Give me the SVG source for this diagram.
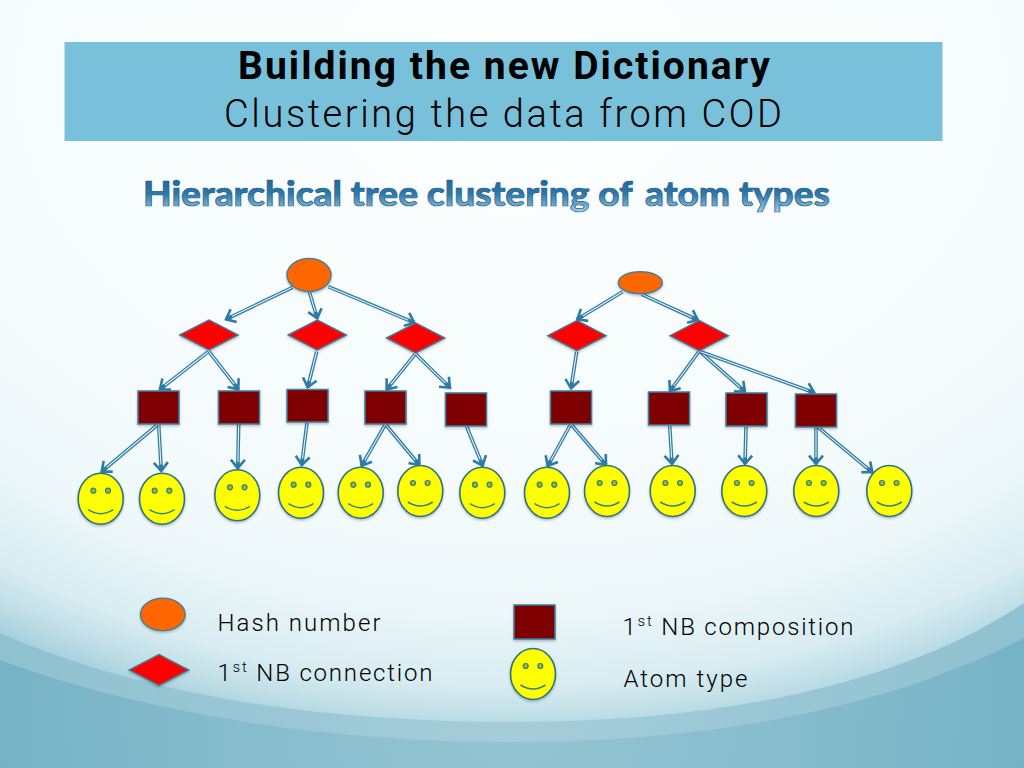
<svg xmlns="http://www.w3.org/2000/svg" width="1024" height="768" viewBox="0 0 1024 768">
<defs>
<radialGradient id="bgA" gradientUnits="userSpaceOnUse" cx="0" cy="0" r="1" gradientTransform="translate(512 80) scale(950 680)">
<stop offset="0" stop-color="#fdffff"/><stop offset="0.6" stop-color="#f5fbfd"/><stop offset="0.77" stop-color="#eef8fa"/><stop offset="0.89" stop-color="#d8ecf1"/><stop offset="0.945" stop-color="#bbdce5"/><stop offset="1" stop-color="#96c6d4"/>
</radialGradient>
<radialGradient id="bgB" gradientUnits="userSpaceOnUse" cx="512" cy="700" r="620"><stop offset="0" stop-color="#96c5d3"/><stop offset="0.5" stop-color="#84bbcc"/><stop offset="1" stop-color="#6faec3"/></radialGradient>
<linearGradient id="bgC" gradientUnits="userSpaceOnUse" x1="0" y1="0" x2="1024" y2="0"><stop offset="0" stop-color="#8fc1d0"/><stop offset="0.5" stop-color="#a5cdd9"/><stop offset="1" stop-color="#8fc1d0"/></linearGradient>
<linearGradient id="head" x1="0" y1="0" x2="0" y2="1"><stop offset="0" stop-color="#1d5f90"/><stop offset="0.55" stop-color="#2f78a8"/><stop offset="1" stop-color="#a8d0e6"/></linearGradient>
<filter id="sh" x="-20%" y="-20%" width="140%" height="150%"><feDropShadow dx="0" dy="1.500" stdDeviation="1.200" flood-color="#000" flood-opacity="0.25"/></filter>
<marker id="arr" markerUnits="userSpaceOnUse" markerWidth="20" markerHeight="20" refX="14" refY="10" orient="auto">
<path d="M7.500 10H14" fill="none" stroke="#2f7ba6" stroke-width="3.600"/>
<path d="M5.500 3L14 10L5.500 17" fill="none" stroke="#2f7ba6" stroke-width="2.600"/>
</marker>
<g id="smile">
<ellipse class="face" rx="22.500" ry="25.500"/>
<circle class="eye" cx="-7.300" cy="-8" r="2.500"/><circle class="eye" cx="7.300" cy="-8" r="2.500"/>
<path class="mouth" d="M-12.500 11Q0 19 12.500 11"/>
</g>
</defs>
<style>
.t{font-family:"Roboto","Liberation Sans",sans-serif;fill:#000;font-variant-ligatures:none}
.l{font-size:24px;font-weight:300}
.sup{font-size:15px}
.face{fill:#ffff00;stroke:#2d7383;stroke-width:1.600;filter:url(#sh)}
.eye{fill:#a3b52c;stroke:#2f8088;stroke-width:1.200}
.mouth{fill:none;stroke:#2f8088;stroke-width:1.500}
.o{fill:#ff6600;stroke:#4a7f94;stroke-width:1.500;filter:url(#sh)}
.d{fill:#ff0000;stroke:#4a6f8c;stroke-width:1.500;filter:url(#sh)}
.s{fill:#7f0000;stroke:#3a7fa0;stroke-width:1.500;filter:url(#sh)}
.c1{fill:none;stroke:#2f7ba6;stroke-width:3.600}
.c2{fill:none;stroke:#e4f3f8;stroke-width:1.100;marker-end:url(#arr)}
</style>
<rect width="1024" height="768" fill="url(#bgB)"/>
<path d="M0 600H1024V638C880 712 700 742 512 742C330 742 150 715 0 660Z" fill="url(#bgC)"/>
<path d="M0 0H1024V603C900 685 720 722 512 722C320 722 140 695 0 633Z" fill="url(#bgA)"/>
<rect x="64.500" y="42" width="878" height="99" fill="#79c1da"/>
<text class="t" x="238" y="79" font-size="39" font-weight="700" textLength="532">Building the new Dictionary</text>
<text class="t" x="224" y="127" font-size="38" font-weight="300" textLength="558">Clustering the data from COD</text>
<text x="143" y="206" font-family="Lato,'Liberation Sans',sans-serif" font-size="35" font-weight="900" fill="url(#head)" stroke="#1d5f90" stroke-width="0.700" textLength="687" lengthAdjust="spacingAndGlyphs" style="font-variant-ligatures:none">Hierarchical tree clustering of<tspan dx="4"> atom types</tspan></text>
<g id="connectors">
<path class="c1" d="M292.700 287.300L226 319.300"/><path class="c2" d="M292.700 287.300L226 319.300"/>
<path class="c1" d="M309.300 291.700L317.300 318.300"/><path class="c2" d="M309.300 291.700L317.300 318.300"/>
<path class="c1" d="M328.300 286.700L414.300 322.700"/><path class="c2" d="M328.300 286.700L414.300 322.700"/>
<path class="c1" d="M208.300 351.700L160 389.300"/><path class="c2" d="M208.300 351.700L160 389.300"/>
<path class="c1" d="M209 351.700L238.300 389.300"/><path class="c2" d="M209 351.700L238.300 389.300"/>
<path class="c1" d="M316.700 351.700L307.700 387.300"/><path class="c2" d="M316.700 351.700L307.700 387.300"/>
<path class="c1" d="M415 354.300L386.700 389.300"/><path class="c2" d="M415 354.300L386.700 389.300"/>
<path class="c1" d="M416 354.300L450 387.700"/><path class="c2" d="M416 354.300L450 387.700"/>
<path class="c1" d="M157.300 425L101.700 471.700"/><path class="c2" d="M157.300 425L101.700 471.700"/>
<path class="c1" d="M158.700 425L161.300 471"/><path class="c2" d="M158.700 425L161.300 471"/>
<path class="c1" d="M238.700 424L237.700 468.300"/><path class="c2" d="M238.700 424L237.700 468.300"/>
<path class="c1" d="M307 422.700L301.700 465"/><path class="c2" d="M307 422.700L301.700 465"/>
<path class="c1" d="M385 425L361.700 465.700"/><path class="c2" d="M385 425L361.700 465.700"/>
<path class="c1" d="M386 425L419.300 465"/><path class="c2" d="M386 425L419.300 465"/>
<path class="c1" d="M466.700 426.700L482.700 465.700"/><path class="c2" d="M466.700 426.700L482.700 465.700"/>
<path class="c1" d="M622.700 291.700L577.300 319.300"/><path class="c2" d="M622.700 291.700L577.300 319.300"/>
<path class="c1" d="M641.700 294.300L697.700 320"/><path class="c2" d="M641.700 294.300L697.700 320"/>
<path class="c1" d="M576.700 351.700L571 388.300"/><path class="c2" d="M576.700 351.700L571 388.300"/>
<path class="c1" d="M698.700 351.700L670 391"/><path class="c2" d="M698.700 351.700L670 391"/>
<path class="c1" d="M700 351.700L745 391.700"/><path class="c2" d="M700 351.700L745 391.700"/>
<path class="c1" d="M700.700 351.700L814.300 392.700"/><path class="c2" d="M700.700 351.700L814.300 392.700"/>
<path class="c1" d="M570.300 425L547.700 466"/><path class="c2" d="M570.300 425L547.700 466"/>
<path class="c1" d="M571.700 425L606 465"/><path class="c2" d="M571.700 425L606 465"/>
<path class="c1" d="M669.700 426L672 464"/><path class="c2" d="M669.700 426L672 464"/>
<path class="c1" d="M746 426.700L745 464"/><path class="c2" d="M746 426.700L745 464"/>
<path class="c1" d="M816 426.700L816 464"/><path class="c2" d="M816 426.700L816 464"/>
<path class="c1" d="M817.300 426.700L872.300 472.300"/><path class="c2" d="M817.300 426.700L872.300 472.300"/>
</g>
<g id="root1"><ellipse class="o" cx="309" cy="275" rx="22" ry="16.500"/></g>
<g id="root2"><ellipse class="o" cx="640.300" cy="282.700" rx="22" ry="11"/></g>
<g id="d1"><polygon class="d" points="180,335 209,320 238,335 209,350"/></g>
<g id="d2"><polygon class="d" points="288.300,335 317.300,320 346.300,335 317.300,350"/></g>
<g id="d3"><polygon class="d" points="386.700,338 415.700,323 444.700,338 415.700,353"/></g>
<g id="d4"><polygon class="d" points="548,335.700 577,320.700 606,335.700 577,350.700"/></g>
<g id="d5"><polygon class="d" points="670.300,335.700 699.300,320.700 728.300,335.700 699.300,350.700"/></g>
<g id="s1"><rect class="s" x="138" y="391" width="41" height="33"/></g>
<g id="s2"><rect class="s" x="218.500" y="391" width="41" height="33"/></g>
<g id="s3"><rect class="s" x="287" y="389.500" width="41" height="32.500"/></g>
<g id="s4"><rect class="s" x="365" y="391" width="41" height="33"/></g>
<g id="s5"><rect class="s" x="445.500" y="393" width="41" height="33"/></g>
<g id="s6"><rect class="s" x="550.500" y="391" width="41" height="33"/></g>
<g id="s7"><rect class="s" x="648.500" y="392" width="41" height="33"/></g>
<g id="s8"><rect class="s" x="726" y="393" width="41" height="33"/></g>
<g id="s9"><rect class="s" x="795.500" y="394" width="41" height="33"/></g>
<g id="a1"><use href="#smile" x="100.700" y="498.700"/></g>
<g id="a2"><use href="#smile" x="162" y="498.700"/></g>
<g id="a3"><use href="#smile" x="237.300" y="495.300"/></g>
<g id="a4"><use href="#smile" x="301" y="492.700"/></g>
<g id="a5"><use href="#smile" x="360.700" y="492.700"/></g>
<g id="a6"><use href="#smile" x="420.300" y="491"/></g>
<g id="a7"><use href="#smile" x="482.300" y="492.700"/></g>
<g id="a8"><use href="#smile" x="547" y="492.700"/></g>
<g id="a9"><use href="#smile" x="607" y="491"/></g>
<g id="a10"><use href="#smile" x="672.700" y="491"/></g>
<g id="a11"><use href="#smile" x="744.300" y="491"/></g>
<g id="a12"><use href="#smile" x="816.300" y="491"/></g>
<g id="a13"><use href="#smile" x="889.300" y="491"/></g>
<g id="legend-hash"><ellipse class="o" cx="162.800" cy="614.500" rx="22.300" ry="16.200"/><text class="t l" x="217.500" y="630.500" textLength="163">Hash number</text></g>
<g id="legend-connection"><polygon class="d" points="129.500,670 159,654.700 188.500,670 159,685.300"/><text class="t l" x="217.500" y="680.500" textLength="215">1<tspan class="sup" dy="-9">st</tspan><tspan dy="9"> NB connection</tspan></text></g>
<g id="legend-composition"><rect class="s" x="514" y="605" width="41" height="34"/><text class="t l" x="622.500" y="635" textLength="231">1<tspan class="sup" dy="-9">st</tspan><tspan dy="9"> NB composition</tspan></text></g>
<g id="legend-atom"><use href="#smile" x="533" y="674"/><text class="t l" x="623.500" y="687" textLength="124">Atom type</text></g>
</svg>
